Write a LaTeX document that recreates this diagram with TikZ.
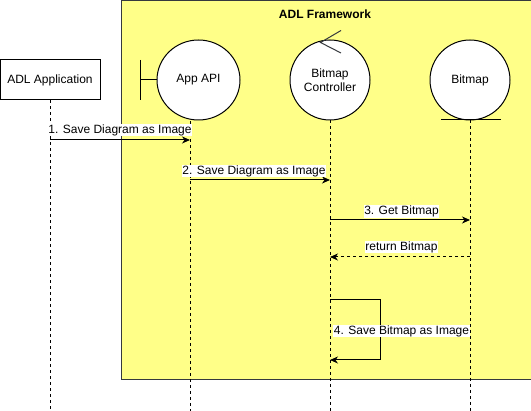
\documentclass[tikz,border=0pt]{standalone}
\usepackage{fontspec}
\setmainfont{Liberation Sans}
\usetikzlibrary{arrows.meta,shapes.geometric}
\definecolor{frameyellow}{HTML}{FFFF88}
\definecolor{framebord}{HTML}{36393D}
\tikzset{
  lifeline/.style={draw=black, line width=0.9pt, dash pattern=on 3pt off 3pt},
  msg/.style={draw=black, line width=1pt, -{Stealth[length=8pt,width=7pt,inset=2.5pt]}},
  retmsg/.style={msg, dash pattern=on 3pt off 3pt},
  lbl/.style={fill=white, inner sep=0.5pt, font=\fontsize{12}{13}\selectfont},
  actor/.style={draw=black, fill=white, line width=1pt, font=\fontsize{12}{14}\selectfont, align=center},
}
\begin{document}
\begin{tikzpicture}[x=1pt,y=-1pt]
\useasboundingbox (0,0) rectangle (531,411);
% frame
\node (frame) [draw=framebord, fill=frameyellow, line width=1pt, minimum width=410pt, minimum height=379pt, anchor=north west, inner sep=0pt] at (120.5,0.5) {};
\node (ftitle) [font=\bfseries\fontsize{12}{14}\selectfont] at (325,14) {ADL Framework};

% lifeline end coordinates
\coordinate (e1) at (50,411);
\coordinate (e2) at (190,411);
\coordinate (e3) at (330,411);
\coordinate (e4) at (470,411);
\coordinate (t2) at (190,121);
\coordinate (t3) at (330,120);
\coordinate (t4) at (470,120);

% ADL Application
\node (app) [draw=black, fill=white, line width=1pt, minimum width=100pt, minimum height=40pt, inner sep=0pt, font=\fontsize{12}{14}\selectfont] at (50,80) {ADL Application};

% lifelines
\draw[lifeline] (app.south) -- (e1);
\draw[lifeline] (t2) -- (e2);
\draw[lifeline] (t3) -- (e3);
\draw[lifeline] (t4) -- (e4);

% App API boundary
\node (api) [actor, ellipse, minimum width=83pt, minimum height=80pt, inner sep=0pt] at (198.5,80) {App API};
\coordinate (bt) at (140,60);
\coordinate (bb) at (140,100);
\coordinate (bm) at (140,80);
\draw[line width=1pt] (bt) -- (bb);
\draw[line width=1pt] (bm) -- (api.west);

% Bitmap Controller control
\node (ctrl) [actor, circle, minimum size=80pt, inner sep=0pt] at (330,80) {Bitmap\\Controller};
\coordinate (cv) at (320.5,42.5);
\coordinate (ca) at (341,30.5);
\coordinate (cb) at (341,53);
\draw[line width=1pt, draw=framebord] (ca) -- (cv) -- (cb);

% Bitmap entity
\node (ent) [actor, circle, minimum size=80pt, inner sep=0pt] at (470,80) {Bitmap};
\coordinate (ul) at (441,120);
\coordinate (ur) at (501,120);
\draw[line width=1pt] (ul) -- (ur);

% messages
\coordinate (m1s) at (50,140);
\coordinate (m1e) at (190,140);
\draw[msg] (m1s) -- (m1e);
\node (l1) [lbl] at (120,130) {1. Save Diagram as Image};

\coordinate (m2s) at (190,180);
\coordinate (m2e) at (330,180);
\draw[msg] (m2s) -- (m2e);
\node (l2) [lbl] at (254,171) {2. Save Diagram as Image};

\coordinate (m3s) at (330,220);
\coordinate (m3e) at (470,220);
\draw[msg] (m3s) -- (m3e);
\node (l3) [lbl] at (401.5,211.5) {3. Get Bitmap};

\coordinate (m4s) at (470,257);
\coordinate (m4e) at (330,257);
\draw[retmsg] (m4s) -- (m4e);
\node (l4) [lbl] at (401.5,247) {return Bitmap};

\coordinate (m5s) at (330,300);
\coordinate (m5a) at (380,300);
\coordinate (m5b) at (380,360);
\coordinate (m5e) at (330,360);
\draw[msg] (m5s) -- (m5a) -- (m5b) -- (m5e);
\node (l5) [lbl] at (401.5,331) {4. Save Bitmap as Image};
\end{tikzpicture}
\end{document}
